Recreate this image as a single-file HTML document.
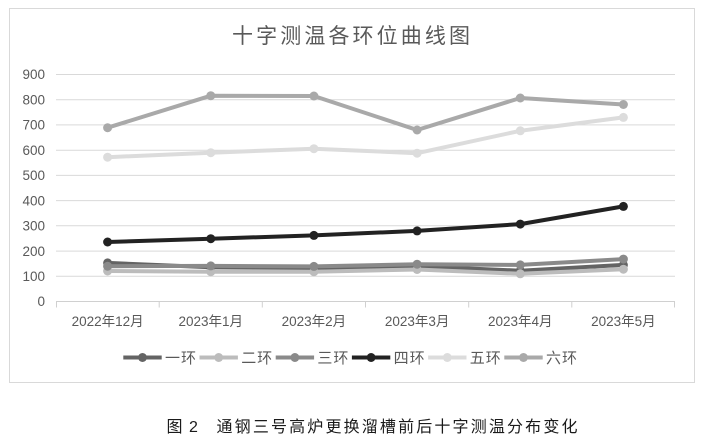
<!DOCTYPE html>
<html>
<head>
<meta charset="utf-8">
<style>
  html,body{margin:0;padding:0;background:#fff;}
  svg{display:block;}
  text{font-family:"Liberation Sans","Noto Sans CJK SC",sans-serif;}
</style>
</head>
<body>
<svg width="704" height="443" viewBox="0 0 704 443" xmlns="http://www.w3.org/2000/svg">
  <rect x="0" y="0" width="704" height="443" fill="#fff"/>
  <!-- chart frame -->
  <rect x="9.5" y="8.5" width="685" height="374" fill="#fff" stroke="#d9d9d9" stroke-width="1"/>

  <!-- title -->
  <text x="232" y="43" font-size="21" fill="#595959" textLength="238" lengthAdjust="spacing">十字测温各环位曲线图</text>

  <!-- gridlines -->
  <g stroke="#d9d9d9" stroke-width="1">
    <line x1="56" x2="675" y1="276.3" y2="276.3"/>
    <line x1="56" x2="675" y1="251.1" y2="251.1"/>
    <line x1="56" x2="675" y1="225.8" y2="225.8"/>
    <line x1="56" x2="675" y1="200.6" y2="200.6"/>
    <line x1="56" x2="675" y1="175.4" y2="175.4"/>
    <line x1="56" x2="675" y1="150.2" y2="150.2"/>
    <line x1="56" x2="675" y1="124.9" y2="124.9"/>
    <line x1="56" x2="675" y1="99.7" y2="99.7"/>
    <line x1="56" x2="675" y1="74.5" y2="74.5"/>
  </g>
  <!-- x axis -->
  <g stroke="#d0d0d0" stroke-width="1">
    <line x1="56" x2="675" y1="301.5" y2="301.5"/>
    <line x1="56.5" x2="56.5" y1="301.5" y2="307.5"/>
    <line x1="159.2" x2="159.2" y1="301.5" y2="307.5"/>
    <line x1="262.3" x2="262.3" y1="301.5" y2="307.5"/>
    <line x1="365.5" x2="365.5" y1="301.5" y2="307.5"/>
    <line x1="468.7" x2="468.7" y1="301.5" y2="307.5"/>
    <line x1="571.8" x2="571.8" y1="301.5" y2="307.5"/>
    <line x1="674.5" x2="674.5" y1="301.5" y2="307.5"/>
  </g>

  <!-- y labels -->
  <g font-size="13.5" fill="#595959" text-anchor="end">
    <text x="45" y="306">0</text>
    <text x="45" y="281">100</text>
    <text x="45" y="256">200</text>
    <text x="45" y="230.5">300</text>
    <text x="45" y="205.3">400</text>
    <text x="45" y="180">500</text>
    <text x="45" y="154.8">600</text>
    <text x="45" y="129.6">700</text>
    <text x="45" y="104.4">800</text>
    <text x="45" y="79.2">900</text>
  </g>

  <!-- x labels -->
  <g font-size="13.5" fill="#595959" text-anchor="middle">
    <text x="107.6" y="326">2022年12月</text>
    <text x="210.8" y="326">2023年1月</text>
    <text x="313.9" y="326">2023年2月</text>
    <text x="417.1" y="326">2023年3月</text>
    <text x="520.3" y="326">2023年4月</text>
    <text x="623.4" y="326">2023年5月</text>
  </g>

  <!-- series -->
  <!-- 一环 -->
  <g stroke="#646464" fill="#646464">
    <polyline fill="none" stroke-width="4" stroke-linejoin="round" points="107.6,262.9 210.8,267.2 313.9,268.0 417.1,266.2 520.3,270.7 623.4,264.9"/>
    <circle cx="107.6" cy="262.9" r="4.5" stroke="none"/>
    <circle cx="210.8" cy="267.2" r="4.5" stroke="none"/>
    <circle cx="313.9" cy="268.0" r="4.5" stroke="none"/>
    <circle cx="417.1" cy="266.2" r="4.5" stroke="none"/>
    <circle cx="520.3" cy="270.7" r="4.5" stroke="none"/>
    <circle cx="623.4" cy="264.9" r="4.5" stroke="none"/>
  </g>
  <!-- 二环 -->
  <g stroke="#bcbcbc" fill="#bcbcbc">
    <polyline fill="none" stroke-width="4" stroke-linejoin="round" points="107.6,271.0 210.8,271.7 313.9,271.7 417.1,269.5 520.3,273.8 623.4,269.2"/>
    <circle cx="107.6" cy="271.0" r="4.5" stroke="none"/>
    <circle cx="210.8" cy="271.7" r="4.5" stroke="none"/>
    <circle cx="313.9" cy="271.7" r="4.5" stroke="none"/>
    <circle cx="417.1" cy="269.5" r="4.5" stroke="none"/>
    <circle cx="520.3" cy="273.8" r="4.5" stroke="none"/>
    <circle cx="623.4" cy="269.2" r="4.5" stroke="none"/>
  </g>
  <!-- 三环 -->
  <g stroke="#8a8a8a" fill="#8a8a8a">
    <polyline fill="none" stroke-width="4" stroke-linejoin="round" points="107.6,266.2 210.8,265.9 313.9,266.4 417.1,264.2 520.3,264.9 623.4,259.1"/>
    <circle cx="107.6" cy="266.2" r="4.5" stroke="none"/>
    <circle cx="210.8" cy="265.9" r="4.5" stroke="none"/>
    <circle cx="313.9" cy="266.4" r="4.5" stroke="none"/>
    <circle cx="417.1" cy="264.2" r="4.5" stroke="none"/>
    <circle cx="520.3" cy="264.9" r="4.5" stroke="none"/>
    <circle cx="623.4" cy="259.1" r="4.5" stroke="none"/>
  </g>
  <!-- 四环 -->
  <g stroke="#222222" fill="#222222">
    <polyline fill="none" stroke-width="4" stroke-linejoin="round" points="107.6,242.0 210.8,238.7 313.9,235.4 417.1,230.9 520.3,224.1 623.4,206.4"/>
    <circle cx="107.6" cy="242.0" r="4.5" stroke="none"/>
    <circle cx="210.8" cy="238.7" r="4.5" stroke="none"/>
    <circle cx="313.9" cy="235.4" r="4.5" stroke="none"/>
    <circle cx="417.1" cy="230.9" r="4.5" stroke="none"/>
    <circle cx="520.3" cy="224.1" r="4.5" stroke="none"/>
    <circle cx="623.4" cy="206.4" r="4.5" stroke="none"/>
  </g>
  <!-- 五环 -->
  <g stroke="#dcdcdc" fill="#dcdcdc">
    <polyline fill="none" stroke-width="4" stroke-linejoin="round" points="107.6,157.2 210.8,152.7 313.9,148.7 417.1,153.2 520.3,130.8 623.4,117.4"/>
    <circle cx="107.6" cy="157.2" r="4.5" stroke="none"/>
    <circle cx="210.8" cy="152.7" r="4.5" stroke="none"/>
    <circle cx="313.9" cy="148.7" r="4.5" stroke="none"/>
    <circle cx="417.1" cy="153.2" r="4.5" stroke="none"/>
    <circle cx="520.3" cy="130.8" r="4.5" stroke="none"/>
    <circle cx="623.4" cy="117.4" r="4.5" stroke="none"/>
  </g>
  <!-- 六环 -->
  <g stroke="#a9a9a9" fill="#a9a9a9">
    <polyline fill="none" stroke-width="4" stroke-linejoin="round" points="107.6,127.7 210.8,95.7 313.9,96.0 417.1,130.0 520.3,98.0 623.4,104.5"/>
    <circle cx="107.6" cy="127.7" r="4.5" stroke="none"/>
    <circle cx="210.8" cy="95.7" r="4.5" stroke="none"/>
    <circle cx="313.9" cy="96.0" r="4.5" stroke="none"/>
    <circle cx="417.1" cy="130.0" r="4.5" stroke="none"/>
    <circle cx="520.3" cy="98.0" r="4.5" stroke="none"/>
    <circle cx="623.4" cy="104.5" r="4.5" stroke="none"/>
  </g>

  <!-- legend -->
  <g font-size="15" fill="#595959">
    <line x1="123.3" x2="161.7" y1="357.5" y2="357.5" stroke="#646464" stroke-width="4"/>
    <circle cx="142.5" cy="357.5" r="4.5" fill="#646464"/>
    <text x="165" y="363" textLength="31" lengthAdjust="spacing">一环</text>

    <line x1="199.5" x2="237.9" y1="357.5" y2="357.5" stroke="#bcbcbc" stroke-width="4"/>
    <circle cx="218.7" cy="357.5" r="4.5" fill="#bcbcbc"/>
    <text x="241.2" y="363" textLength="31" lengthAdjust="spacing">二环</text>

    <line x1="275.7" x2="314.1" y1="357.5" y2="357.5" stroke="#8a8a8a" stroke-width="4"/>
    <circle cx="294.9" cy="357.5" r="4.5" fill="#8a8a8a"/>
    <text x="317.4" y="363" textLength="31" lengthAdjust="spacing">三环</text>

    <line x1="351.9" x2="390.3" y1="357.5" y2="357.5" stroke="#222222" stroke-width="4"/>
    <circle cx="371.1" cy="357.5" r="4.5" fill="#222222"/>
    <text x="393.6" y="363" textLength="31" lengthAdjust="spacing">四环</text>

    <line x1="428.1" x2="466.5" y1="357.5" y2="357.5" stroke="#dcdcdc" stroke-width="4"/>
    <circle cx="447.3" cy="357.5" r="4.5" fill="#dcdcdc"/>
    <text x="469.8" y="363" textLength="31" lengthAdjust="spacing">五环</text>

    <line x1="504.3" x2="542.7" y1="357.5" y2="357.5" stroke="#a9a9a9" stroke-width="4"/>
    <circle cx="523.5" cy="357.5" r="4.5" fill="#a9a9a9"/>
    <text x="546" y="363" textLength="31" lengthAdjust="spacing">六环</text>
  </g>

  <!-- caption -->
  <g font-size="16" fill="#1a1a1a">
    <text x="166.5" y="432">图</text>
    <text x="189" y="432">2</text>
    <text x="216.5" y="432" textLength="361" lengthAdjust="spacing">通钢三号高炉更换溜槽前后十字测温分布变化</text>
  </g>
</svg>
</body>
</html>
